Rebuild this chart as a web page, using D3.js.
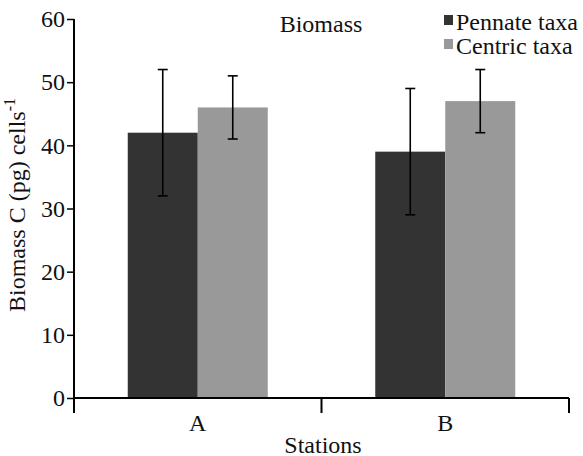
<!DOCTYPE html>
<html>
<head>
<meta charset="utf-8">
<script src="https://cdn.jsdelivr.net/npm/d3@7"></script>
<style>
  body { margin: 0; background: #fff; }
  text { font-family: "Liberation Serif", "Times New Roman", serif; fill: #111; }
</style>
</head>
<body>
<div class="chart"></div>
<script>
const stations = ['A', 'B']
const seriesNames = ['Pennate taxa', 'Centric taxa']
const pennate = [42, 39]
const pennateErr = [10, 10]
const centric = [46, 47]
const centricErr = [5, 5]
const yTicks = [0, 10, 20, 30, 40, 50, 60]

const colors = ['#333333', '#999999']

let width = 583, height = 456
let margin = { left: 74, right: 14, top: 19, bottom: 58 }

let svg = d3.select('.chart')
.append('svg')
.attr('width', width)
.attr('height', height)

let x = d3.scaleBand()
.domain(stations)
.range([margin.left, width - margin.right])

let x1 = d3.scaleBand()
.domain(seriesNames)
.range([0, 140])

let y = d3.scaleLinear()
.domain([0, 60])
.range([height - margin.bottom, margin.top])

let data = stations.map((s, i) => ({
	station: s,
	values: [
		{ name: seriesNames[0], v: pennate[i], e: pennateErr[i] },
		{ name: seriesNames[1], v: centric[i], e: centricErr[i] }
	]
}))

let groups = svg.selectAll('g.group')
.data(data)
.enter()
.append('g')
.attr('class', 'group')
.attr('transform', d => `translate(${x(d.station) + (x.bandwidth() - 140) / 2},0)`)

groups.selectAll('rect')
.data(d => d.values)
.enter()
.append('rect')
.attr('x', d => x1(d.name))
.attr('width', x1.bandwidth())
.attr('y', d => y(d.v))
.attr('height', d => y(0) - y(d.v))
.attr('fill', (d, i) => colors[i])

// error bars
let err = groups.selectAll('g.err')
.data(d => d.values)
.enter()
.append('g')
.attr('class', 'err')
.attr('stroke', '#000')
.attr('stroke-width', 1.6)

err.append('line')
.attr('x1', d => x1(d.name) + x1.bandwidth() / 2)
.attr('x2', d => x1(d.name) + x1.bandwidth() / 2)
.attr('y1', d => y(d.v + d.e))
.attr('y2', d => y(d.v - d.e))

err.selectAll('line.cap')
.data(d => [d.v + d.e, d.v - d.e].map(val => ({ name: d.name, val })))
.enter()
.append('line')
.attr('class', 'cap')
.attr('x1', d => x1(d.name) + x1.bandwidth() / 2 - 5)
.attr('x2', d => x1(d.name) + x1.bandwidth() / 2 + 5)
.attr('y1', d => y(d.val))
.attr('y2', d => y(d.val))

// y axis
let yAxis = svg.append('g')
.attr('transform', `translate(${margin.left},0)`)
.call(d3.axisLeft(y).tickValues(yTicks).tickSize(7).tickPadding(2))

yAxis.select('.domain').attr('stroke', '#000').attr('stroke-width', 2)
.attr('d', `M0,${margin.top}V${y(0) + 15}`)
yAxis.selectAll('.tick line').attr('stroke', '#000').attr('stroke-width', 1.5)
yAxis.selectAll('.tick text').style('font-size', '24px').style('font-family', '"Liberation Serif", serif').attr('fill', '#111')

// x axis
let xAxis = svg.append('g')
.attr('transform', `translate(0,${y(0)})`)
.call(d3.axisBottom(x).tickSize(0).tickPadding(16))

xAxis.select('.domain').attr('stroke', '#000').attr('stroke-width', 2)
.attr('d', `M${margin.left},0H${width - margin.right}`)
xAxis.selectAll('.tick text').style('font-size', '24px').style('font-family', '"Liberation Serif", serif').attr('fill', '#111')

// separator ticks between stations
let bounds = [x.range()[1]].concat(stations.slice(1).map(s => x(s)))
xAxis.selectAll('line.sep')
.data(bounds)
.enter()
.append('line')
.attr('class', 'sep')
.attr('x1', d => d).attr('x2', d => d)
.attr('y1', 0).attr('y2', 15)
.attr('stroke', '#000').attr('stroke-width', 2)

// labels
svg.append('text')
.attr('x', 323)
.attr('y', 453)
.attr('text-anchor', 'middle')
.style('font-size', '24px')
.text('Stations')

let yl = svg.append('text')
.attr('transform', `translate(25,312) rotate(-90)`)
.attr('text-anchor', 'start')
.style('font-size', '24px')
yl.append('tspan').text('Biomass C (pg) cells')
yl.append('tspan').attr('dy', -10).style('font-size', '16px').text('-1')

svg.append('text')
.attr('x', 321)
.attr('y', 32)
.attr('text-anchor', 'middle')
.style('font-size', '24px')
.text('Biomass')

// legend
let legend = svg.selectAll('g.legend')
.data(seriesNames)
.enter()
.append('g')
.attr('class', 'legend')
.attr('transform', (d, i) => `translate(444,${15 + i * 24})`)

legend.append('rect')
.attr('width', 9).attr('height', 10)
.attr('fill', (d, i) => colors[i])

legend.append('text')
.attr('x', 12).attr('y', 15)
.style('font-size', '24px')
.text(d => d)
</script>
</body>
</html>
